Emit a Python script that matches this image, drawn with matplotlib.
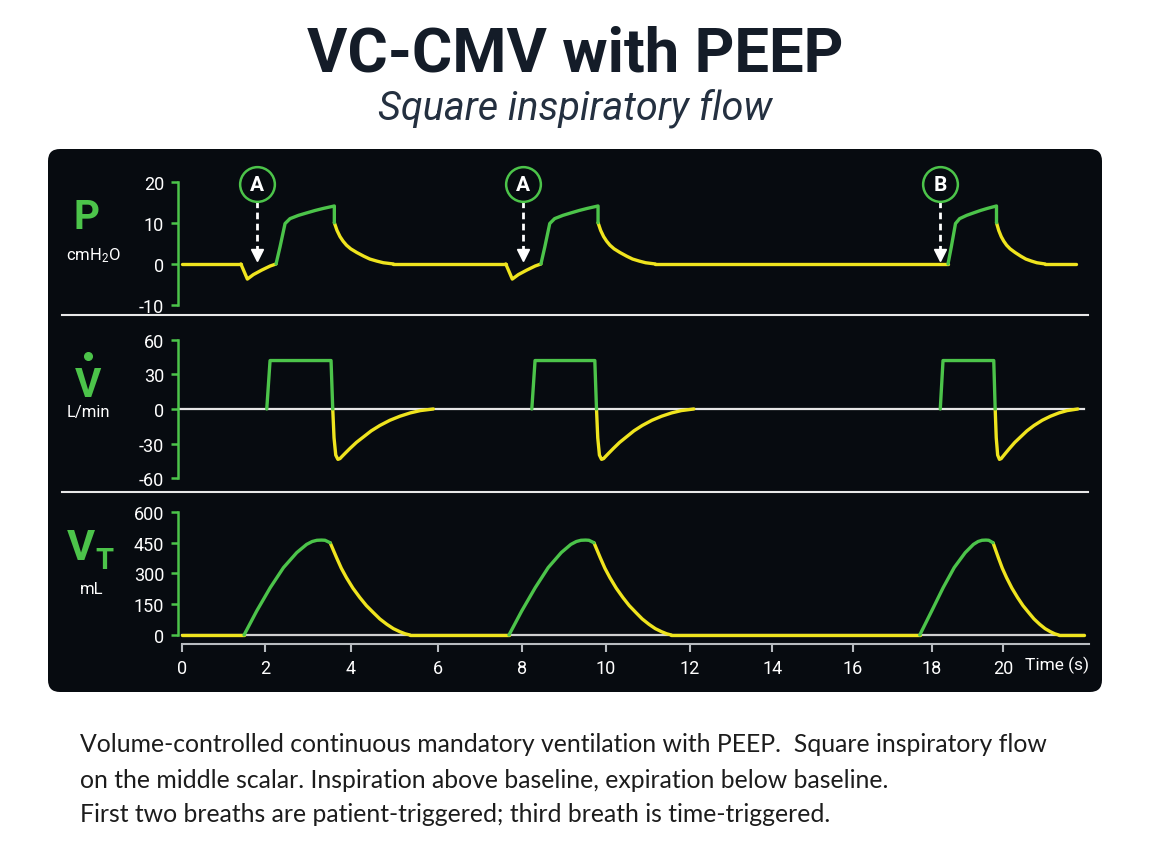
import numpy as np
import matplotlib
matplotlib.use('Agg')
import matplotlib.pyplot as plt
from matplotlib.patches import FancyBboxPatch
from matplotlib.lines import Line2D

plt.rcParams['font.family'] = ['Roboto', 'DejaVu Sans']
plt.rcParams['mathtext.default'] = 'regular'
plt.rcParams['axes.unicode_minus'] = False

# ---- data (breath 1, times in s) ----
# pressure (cmH2O)
P_TRIG_T = [1.42, 1.575, 1.72, 1.92, 2.12, 2.257]      # patient effort dip
P_TRIG = [0.0, -3.7, -2.6, -1.5, -0.5, 0.0]
P_INSP_T = [2.257, 2.35, 2.467, 2.583, 2.78, 2.972, 3.17, 3.36, 3.617, 3.617]
P_INSP = [0.0, 4.2, 9.9, 11.1, 11.9, 12.5, 13.1, 13.6, 14.2, 10.1]
P_EXP_T = [3.617, 3.68, 3.75, 3.82, 3.9, 4.0, 4.14, 4.3, 4.44, 4.6, 4.75, 4.98]
P_EXP = [10.1, 8.2, 6.7, 5.6, 4.6, 3.7, 2.8, 1.9, 1.2, 0.7, 0.3, 0.0]

# flow (L/min)
V_INSP_T = [2.04, 2.117, 3.54, 3.58]
V_INSP = [0, 42, 42, 0]
V_EXP_T = [3.58, 3.61, 3.65, 3.70, 3.75, 3.79, 3.88, 3.98, 4.13, 4.29, 4.47, 4.67, 4.9, 5.13, 5.37, 5.6, 5.9]
V_EXP = [0, -25, -40, -43.7, -43.0, -41.4, -38.0, -34.3, -29.0, -24.3, -19.0, -14.3, -9.8, -6.3, -3.4, -1.4, 0]

# tidal volume (mL)
VT_INSP_T = [1.496, 1.80, 2.12, 2.43, 2.74, 2.97, 3.10, 3.21, 3.32, 3.40, 3.52]
VT_INSP = [0, 117, 230, 328, 401, 441, 455, 461, 462, 461, 449]
VT_EXP_T = [3.52, 3.60, 3.67, 3.78, 3.90, 4.05, 4.21, 4.36, 4.52, 4.67, 4.83, 4.98, 5.13, 5.25, 5.36]
VT_EXP = [449, 410, 376, 325, 279, 228, 182, 143, 109, 78, 52, 31, 16, 6, 0]

# breaths: shift from breath 1 and trigger type
BREATH_SHIFT = [0.0, 6.2, 16.2]
PATIENT_TRIGGERED = [True, True, False]
TRIGGER_LABELS = ['A', 'A', 'B']
TRIGGER_T = [1.80, 8.04, 18.24]
TRACE_END_P = 22.06
TRACE_END = 22.27

X_TICKS = [0, 2, 4, 6, 8, 10, 12, 14, 16, 18, 20]
P_TICKS = [20, 10, 0, -10]
V_TICKS = [60, 30, 0, -30, -60]
VT_TICKS = [0, 150, 300, 450, 600]

GREEN = '#4cc44a'
YELLOW = '#efe41e'
PANEL = '#070b10'
W, H = 1150, 862

# time axis of the monitor is slightly uneven; calibrate it from tick pixel spots
CAL_T = [-10, 0, 2, 4, 6, 8, 10, 12, 14, 16, 18, 20, 40]
CAL_PX = [-234.8, 181.7, 265, 350.7, 437.7, 521.7, 605.7, 689.7, 772.3, 853, 931.7, 1003, 1716]


def fwd(t):
    return np.interp(t, CAL_T, CAL_PX)


def inv(p):
    return np.interp(p, CAL_PX, CAL_T)


fig = plt.figure(figsize=(W / 100, H / 100), dpi=100)

# dark monitor panel
panel = FancyBboxPatch((0.48, (H - 693) / 100), 10.54, 5.43,
                       boxstyle='round,pad=0,rounding_size=0.12',
                       transform=fig.dpi_scale_trans, facecolor=PANEL,
                       edgecolor='none', zorder=-10)
fig.add_artist(panel)

left = 178 / W
width = (1090 - 178) / W


def fy(px):
    return 1 - px / H


ax_p = fig.add_axes([left, fy(315), width, (315 - 160) / H])
ax_v = fig.add_axes([left, fy(493), width, (493 - 316) / H], sharex=ax_p)
ax_vt = fig.add_axes([left, fy(645), width, (645 - 493) / H], sharex=ax_p)

for ax in (ax_p, ax_v, ax_vt):
    ax.set_facecolor('none')
    ax.set_xscale('function', functions=(fwd, inv))
    for s in ('top', 'right'):
        ax.spines[s].set_visible(False)
    ax.spines['left'].set_color(GREEN)
    ax.spines['left'].set_linewidth(1.8)
    ax.tick_params(axis='y', colors=GREEN, length=5, width=1.8, labelsize=13,
                   labelcolor='white', pad=5)

ax_p.set_xlim(-0.09, 22.44)
ax_p.set_ylim(-12.25, 25.7)
ax_v.set_ylim(-72, 81.5)
ax_vt.set_ylim(-43.8, 696)

ax_p.set_yticks(P_TICKS)
ax_p.spines['left'].set_bounds(-10, 20)
ax_v.set_yticks(V_TICKS)
ax_v.spines['left'].set_bounds(-60, 60)
ax_vt.set_yticks(VT_TICKS)
ax_vt.spines['left'].set_bounds(0, 600)

for ax in (ax_p, ax_v):
    ax.spines['bottom'].set_visible(False)
    ax.tick_params(axis='x', bottom=False, labelbottom=False)

ax_vt.spines['bottom'].set_color('#b8bcc0')
ax_vt.spines['bottom'].set_linewidth(1.5)
ax_vt.spines['bottom'].set_bounds(0, 22.4)
ax_vt.set_xticks(X_TICKS)
ax_vt.set_xticklabels([str(t) for t in X_TICKS])
ax_vt.tick_params(axis='x', colors='#b8bcc0', length=6, width=1.5,
                  labelsize=13, labelcolor='white', pad=5)

lw = 2.4
kw = dict(solid_capstyle='round', solid_joinstyle='round')

# zero lines
ax_v.plot([-0.09, TRACE_END], [0, 0], color='#e6e6e6', lw=1.6, zorder=1)
ax_vt.plot([0, TRACE_END], [0, 0], color='#d0d0d0', lw=1.6, zorder=1)

# ---- pressure ----
prev_end = 0.0
for shift, patient in zip(BREATH_SHIFT, PATIENT_TRIGGERED):
    start = (P_TRIG_T[0] if patient else P_INSP_T[0]) + shift
    ax_p.plot([prev_end, start], [0, 0], color=YELLOW, lw=lw, **kw)
    if patient:
        ax_p.plot(np.array(P_TRIG_T) + shift, P_TRIG, color=YELLOW, lw=lw, **kw)
    ax_p.plot(np.array(P_EXP_T) + shift, P_EXP, color=YELLOW, lw=lw, **kw)
    ax_p.plot(np.array(P_INSP_T) + shift, P_INSP, color=GREEN, lw=lw, zorder=3, **kw)
    prev_end = P_EXP_T[-1] + shift
ax_p.plot([prev_end, TRACE_END_P], [0, 0], color=YELLOW, lw=lw, **kw)

# ---- flow ----
for shift in BREATH_SHIFT:
    ax_v.plot(np.array(V_EXP_T) + shift, V_EXP, color=YELLOW, lw=lw, zorder=2, **kw)
    ax_v.plot(np.array(V_INSP_T) + shift, V_INSP, color=GREEN, lw=lw, zorder=3, **kw)

# ---- volume ----
prev_end = 0.0
for shift in BREATH_SHIFT:
    ax_vt.plot([prev_end, VT_INSP_T[0] + shift], [0, 0], color=YELLOW, lw=lw, zorder=2, **kw)
    ax_vt.plot(np.array(VT_EXP_T) + shift, VT_EXP, color=YELLOW, lw=lw, zorder=2, **kw)
    ax_vt.plot(np.array(VT_INSP_T) + shift, VT_INSP, color=GREEN, lw=lw, zorder=3, **kw)
    prev_end = VT_EXP_T[-1] + shift
ax_vt.plot([prev_end, TRACE_END], [0, 0], color=YELLOW, lw=lw, zorder=2, **kw)

# trigger markers
for lab, t in zip(TRIGGER_LABELS, TRIGGER_T):
    ax_p.plot([t, t], [15.3, 2.6], color='white', lw=2, ls=(0, (2.4, 1.6)), zorder=4)
    ax_p.plot([t], [2.3], marker='v', ms=9, color='white', mec='white', zorder=4)
    ax_p.plot([t], [19.5], marker='o', ms=25, mfc=PANEL, mec=GREEN, mew=1.8,
              zorder=5, clip_on=False)
    ax_p.text(t, 19.4, lab, color='white', fontsize=15, fontweight='bold',
              ha='center', va='center', zorder=6)

# separators
for ypx in (315.7, 492.7):
    fig.add_artist(Line2D([62 / W, 1088 / W], [fy(ypx)] * 2, color='#e8e8e8', lw=1.5))

# scalar labels
fig.text(87 / W, fy(218), 'P', color=GREEN, fontsize=29, fontweight='bold', ha='center', va='center')
fig.text(93 / W, fy(256), 'cmH$_2$O', color='white', fontsize=12, ha='center', va='center')
fig.text(88 / W, fy(386), 'V', color=GREEN, fontsize=29, fontweight='bold', ha='center', va='center')
fig.add_artist(Line2D([88 / W], [fy(357)], marker='o', ms=5.5, color=GREEN, lw=0))
fig.text(88 / W, fy(413), 'L/min', color='white', fontsize=12, ha='center', va='center')
fig.text(81 / W, fy(549), 'V', color=GREEN, fontsize=31, fontweight='bold', ha='center', va='center')
fig.text(104 / W, fy(561), 'T', color=GREEN, fontsize=21, fontweight='bold', ha='center', va='center')
fig.text(92 / W, fy(590), 'mL', color='white', fontsize=12, ha='center', va='center')
fig.text(1057 / W, fy(665), 'Time (s)', color='white', fontsize=12.5, ha='center', va='center')

# titles
fig.text(0.5, fy(54), 'VC-CMV with PEEP', color='#141c28', fontsize=44.5,
         fontweight='bold', ha='center', va='center')
fig.text(0.5, fy(108), 'Square inspiratory flow', color='#243040', fontsize=28.5,
         style='italic', ha='center', va='center')

# caption
caption = [
    'Volume-controlled continuous mandatory ventilation with PEEP.  Square inspiratory flow',
    'on the middle scalar. Inspiration above baseline, expiration below baseline.',
    'First two breaths are patient-triggered; third breath is time-triggered.',
]
for i, line in enumerate(caption):
    fig.text(80 / W, fy(745 + 35 * i), line, color='#1c1c1c', fontsize=17.8,
             family=['Lato', 'DejaVu Sans'], ha='left', va='center')

fig.savefig('out.png', dpi=100, facecolor='white')
